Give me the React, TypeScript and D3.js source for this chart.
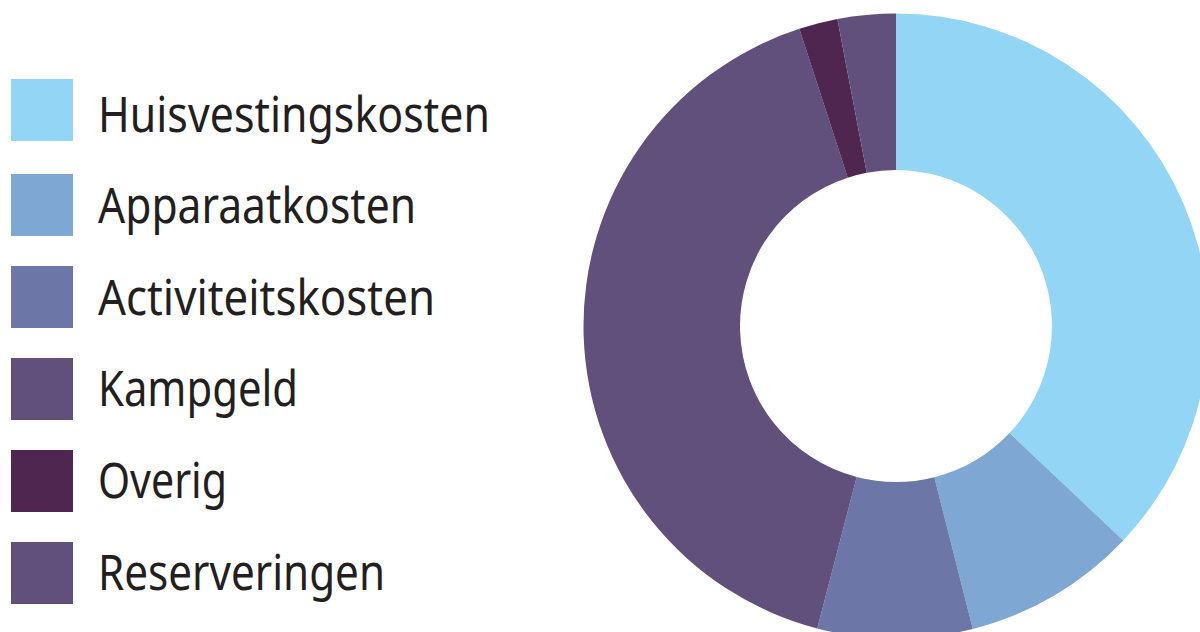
import React from "react";
import * as d3 from "d3";

const categories = [
  "Huisvestingskosten",
  "Apparaatkosten",
  "Activiteitskosten",
  "Kampgeld",
  "Overig",
  "Reserveringen",
];
const values = [37.0, 9.0, 8.0, 40.9, 2.0, 3.0];
const colors = ["#93d5f5", "#7ea7d3", "#6d77a7", "#614f7c", "#4f264f", "#614f7c"];
const labelWidths = [392, 318, 337, 200, 129, 287];

const W = 1200;
const H = 632;
const cx = 896;
const cy = 326;
const outerR = 312.5;
const innerR = 156;

export default function App() {
  const pie = d3
    .pie<number>()
    .sort(null)
    .value((d) => d);
  const arcs = pie(values);
  const arc = d3.arc<d3.PieArcDatum<number>>().innerRadius(innerR).outerRadius(outerR);

  return (
    <svg
      width={W}
      height={H}
      style={{ position: "absolute", left: 0, top: 0, background: "#ffffff" }}
    >
      <g transform={`translate(${cx},${cy})`}>
        {arcs.map((a, i) => (
          <path key={i} d={arc(a) || ""} fill={colors[i]} />
        ))}
      </g>
      <g>
        {categories.map((c, i) => {
          const top = i === 0 ? 79 : 174 + (i - 1) * 92;
          const base = 131.5 + i * 91.6;
          return (
            <g key={c}>
              <rect x={11} y={top} width={62} height={62} fill={colors[i]} />
              <text
                x={98}
                y={base}
                fontFamily="'Noto Sans', 'Open Sans', sans-serif"
                fontSize={49}
                fill="#231f20"
                textLength={labelWidths[i]}
                lengthAdjust="spacingAndGlyphs"
              >
                {c}
              </text>
            </g>
          );
        })}
      </g>
    </svg>
  );
}
